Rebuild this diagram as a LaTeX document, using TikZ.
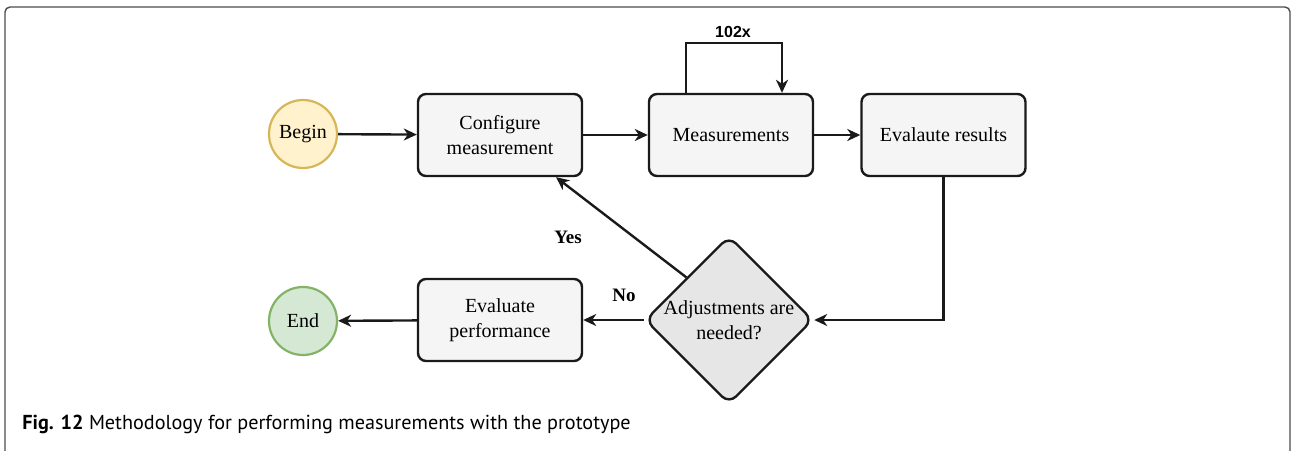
\documentclass[tikz,border=0pt]{standalone}
\usepackage{fontspec}
\setmainfont{Liberation Serif}
\newfontfamily\capfont{PT Sans}
\newfontfamily\tagfont{Liberation Sans}
\usepackage{xcolor}
\usetikzlibrary{calc, arrows.meta, shapes.geometric}

\definecolor{begfill}{HTML}{FFF2CC}
\definecolor{begline}{HTML}{D6B656}
\definecolor{endfill}{HTML}{D5E8D4}
\definecolor{endline}{HTML}{82B366}
\definecolor{boxfill}{HTML}{F5F5F5}
\definecolor{decfill}{HTML}{E6E6E6}
\definecolor{ink}{HTML}{1A1A1A}

\tikzset{
	txt/.style={font=\fontsize{10}{12.5}\selectfont, align=center},
	term/.style={circle, txt, line width=1.1pt, minimum size=34pt, inner sep=0pt},
	proc/.style={txt, draw=ink, fill=boxfill, line width=1.2pt, rounded corners=4pt, minimum width=82pt, minimum height=41pt, inner sep=0pt},
	decide/.style={diamond, draw=ink, fill=decfill, line width=1.2pt, rounded corners=5pt, minimum width=84pt, minimum height=84pt, inner sep=0pt},
	flow/.style={draw=ink, line width=1.2pt, -{Stealth[length=6.5pt, width=6pt, inset=2pt]}},
	tag/.style={font=\bfseries\fontsize{9.5}{11}\selectfont}
}

\begin{document}
\begin{tikzpicture}[x=0.5pt, y=-0.5pt]
			\def\rx{28pt};
			\def\up{25pt};
			
			\useasboundingbox (0,0) rectangle (1291,450);
			\draw[black!70, line width=0.7pt, rounded corners=2.5pt] (5,470) -- (5,7) -- (1290,7) -- (1290,470);
			
			\node[term, fill=begfill, draw=begline] (begin) at (303,134) {Begin};
			\node[proc] (conf) at (500,135) {Configure\\measurement};
			\node[proc] (meas) at (731,135) {Measurements};
			\node[proc] (eval) at (943.5,135) {Evalaute results};
			\node[decide] (adj) at (729,320) {};
			\node[txt] (adjtxt) at (adj) {Adjustments are\\needed?};
			\node[proc] (perf) at (500,320) {Evaluate\\performance};
			\node[term, fill=endfill, draw=endline] (end) at (303,321) {End};
			
			\draw[flow] (begin) -- (conf);
			\draw[flow] (conf) -- (meas);
			\draw[flow] (meas) -- (eval);
			\draw[flow] ($(meas.north)+(-22.5pt,0)$) -- ++(0,\up) -| ($(meas.north)+(25.5pt,0)$);
			\draw[flow] (eval.south) |- (adj.east);
			\draw[flow] (adj.north west) -- ($(conf.south)+(\rx,0)$);
			\draw[flow] (adj.west) -- (perf.east);
			\draw[flow] (perf) -- (end);
			
			\node[font=\tagfont\bfseries\fontsize{8}{9}\selectfont] (times) at (733,32) {102x};
			\node[tag] (yes) at (568,237) {Yes};
			\node[tag] (no) at (624,295) {No};
			
			\node[anchor=base west, inner sep=0pt, font=\capfont\fontsize{10.1}{12}\selectfont] (cap) at (22,429) {\textbf{Fig. 12} Methodology for performing measurements with the prototype};
		\end{tikzpicture}
\end{document}
